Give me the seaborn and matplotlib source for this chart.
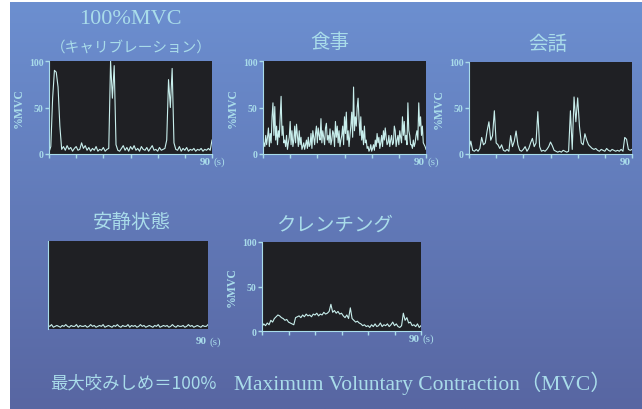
import numpy as np
import matplotlib
matplotlib.use("Agg")
import matplotlib.pyplot as plt
import seaborn as sns

# 筋電図の読み取り値 (%MVC)、0〜90秒
mvc_calib = [2, 8, 60, 90, 88, 72, 30, 5, 8, 4, 9, 5, 7, 3, 6, 8, 4, 5, 12, 6,
             9, 4, 7, 3, 6, 4, 8, 3, 5, 4, 7, 3, 5, 6, 100, 60, 95, 10, 4, 3,
             6, 9, 4, 7, 3, 8, 5, 9, 4, 6, 3, 8, 5, 4, 7, 3, 6, 9, 4, 5,
             3, 7, 4, 5, 6, 15, 80, 50, 92, 12, 5, 4, 8, 3, 6, 4, 7, 3, 5, 4,
             6, 3, 5, 4, 6, 3, 5, 4, 6, 4, 15]

eating = [5, 12, 8, 20, 10, 18, 28, 8, 22, 12, 40, 55, 20, 51, 15, 30, 10, 25, 18, 40,
          62, 20, 30, 12, 15, 8, 20, 5, 12, 18, 35, 10, 25, 8, 15, 30, 12, 32, 20, 8,
          25, 10, 18, 5, 8, 12, 5, 10, 15, 6, 18, 8, 10, 22, 6, 25, 18, 10, 22, 30,
          12, 28, 20, 15, 38, 12, 25, 18, 10, 28, 33, 15, 20, 12, 27, 10, 15, 25, 22, 8,
          35, 18, 30, 12, 25, 8, 15, 20, 30, 10, 40, 22, 45, 15, 25, 8, 20, 30, 45, 18,
          72, 25, 40, 30, 50, 60, 38, 20, 40, 15, 25, 10, 30, 12, 15, 6, 8, 3, 5, 10,
          3, 6, 10, 4, 15, 8, 22, 12, 18, 6, 12, 20, 8, 25, 15, 28, 18, 10, 12, 20,
          8, 15, 20, 10, 12, 30, 25, 8, 15, 20, 10, 25, 18, 12, 40, 20, 35, 15, 20, 10,
          55, 25, 20, 10, 10, 6, 15, 8, 12, 20, 25, 15, 55, 30, 40, 20, 30, 12, 10, 8,
          5]

talking = [5, 14, 4, 3, 5, 3, 6, 18, 10, 12, 25, 35, 15, 20, 47, 12, 10, 6, 10, 4,
           3, 5, 3, 20, 8, 14, 25, 10, 4, 3, 5, 8, 3, 6, 12, 17, 8, 12, 46, 8,
           3, 4, 3, 5, 8, 13, 9, 4, 3, 2, 3, 2, 4, 3, 2, 3, 47, 5, 62, 35,
           61, 30, 12, 10, 22, 15, 10, 8, 6, 5, 6, 4, 3, 5, 4, 3, 6, 4, 3, 5,
           4, 3, 4, 3, 5, 3, 18, 16, 5, 4, 5]

resting = [4, 3, 5, 2, 3, 4, 3, 2, 4, 3, 5, 3, 2, 4, 3, 3, 5, 2, 4, 3,
           3, 4, 2, 3, 5, 3, 4, 2, 3, 4, 3, 5, 2, 3, 4, 3, 2, 4, 3, 5,
           3, 2, 4, 3, 3, 5, 2, 4, 3, 4, 2, 3, 5, 3, 4, 2, 3, 4, 3, 2,
           4, 3, 5, 2, 3, 4, 3, 4, 2, 3, 5, 3, 2, 4, 3, 3, 4, 2, 3, 5,
           3, 4, 2, 3, 4, 3, 2, 4, 3, 3, 5]

clenching = [5, 8, 6, 9, 7, 12, 10, 14, 16, 18, 17, 15, 14, 12, 13, 10, 9, 8, 7, 15,
             16, 17, 15, 18, 16, 19, 17, 18, 16, 19, 18, 20, 17, 19, 18, 21, 19, 20, 22, 30,
             21, 23, 20, 22, 19, 20, 17, 15, 18, 14, 26, 14, 12, 10, 11, 9, 8, 6, 7, 5,
             6, 4, 7, 5, 8, 5, 6, 9, 5, 7, 6, 8, 5, 7, 10, 6, 8, 5, 4, 6,
             20, 12, 15, 9, 10, 6, 7, 5, 8, 4, 6]

titles = ["100%MVC", "食事", "会話", "安静状態", "クレンチング"]
y_ticks = [0, 50, 100]
x_ticks = [0, 15, 30, 45, 60, 75, 90]
duration = 90

W, H = 642, 410
txt_c = "#a9dcea"
trace_c = "#c8eeec"
panel_c = "#1f2024"
serif = ["Liberation Serif", "DejaVu Serif"]
jp = ["Noto Sans CJK JP", "DejaVu Sans"]


def px_box(x0, y0, x1, y1):
    return [x0 / W, 1 - y1 / H, (x1 - x0) / W, (y1 - y0) / H]


fig = plt.figure(figsize=(W / 100, H / 100), dpi=100)
fig.patch.set_facecolor("white")

# 背景のグラデーション
bg = fig.add_axes(px_box(10, 3, 642, 410))
top = np.array([108, 143, 208]) / 255
bottom = np.array([88, 102, 162]) / 255
k = np.linspace(0, 1, 256)[:, None, None]
grad = top * (1 - k) + bottom * k
bg.imshow(np.repeat(grad, 2, axis=1), aspect="auto", extent=[0, 1, 0, 1])
bg.axis("off")

# (データ, 位置, 目盛りあり, 単位表示)
panels = [
    (mvc_calib, (49, 62, 212, 155), True, True),
    (eating, (263, 62, 426, 155), True, True),
    (talking, (469, 63, 632, 155), True, False),
    (resting, (48, 242, 208, 330), False, True),
    (clenching, (262, 243, 421, 332), True, True),
]

for vals, box, full_axis, unit in panels:
    ax = fig.add_axes(px_box(*box))
    ax.set_facecolor(panel_c)
    t = np.linspace(0, duration, len(vals))
    sns.lineplot(x=t, y=vals, ax=ax, color=trace_c, linewidth=0.8)
    ax.set_xlim(0, duration)
    ax.set_ylim(0, 100)
    ax.set_xlabel("")
    for s in ["top", "right"]:
        ax.spines[s].set_visible(False)
    ax.spines["left"].set_color(txt_c)
    ax.spines["bottom"].set_color(txt_c)
    if full_axis:
        ax.set_xticks(x_ticks)
        ax.set_xticklabels([])
        ax.set_yticks(y_ticks)
        ax.set_yticklabels([str(v) for v in y_ticks], fontsize=7,
                           family=serif, fontweight="bold", color=txt_c)
        ax.tick_params(direction="out", length=3, width=1, color=txt_c, pad=1)
        ax.set_ylabel("%MVC", fontsize=8.5, family=serif, fontweight="bold",
                      color=txt_c, labelpad=3)
        dy = -2
    else:
        ax.set_xticks([])
        ax.set_yticks([])
        ax.spines["bottom"].set_visible(False)
        dy = -5
    ax.annotate("90", xy=(1, 0), xycoords="axes fraction", xytext=(-1, dy),
                textcoords="offset points", ha="right", va="top",
                fontsize=8, family=serif, fontweight="bold", color=txt_c,
                annotation_clip=False)
    if unit:
        ax.annotate("(s)", xy=(1, 0), xycoords="axes fraction", xytext=(1, dy),
                    textcoords="offset points", ha="left", va="top",
                    fontsize=8, family=serif, color=txt_c, annotation_clip=False)

# タイトル
fig.text(130 / W, 1 - 20 / H, titles[0], ha="center", va="center",
         fontsize=16, family=serif, color=txt_c)
fig.text(131 / W, 1 - 48 / H, "（キャリブレーション）", ha="center", va="center",
         fontsize=10.5, family=jp, color=txt_c)
fig.text(330 / W, 1 - 43 / H, titles[1], ha="center", va="center",
         fontsize=14, family=jp, color=txt_c)
fig.text(548 / W, 1 - 45 / H, titles[2], ha="center", va="center",
         fontsize=14, family=jp, color=txt_c)
fig.text(132 / W, 1 - 222 / H, titles[3], ha="center", va="center",
         fontsize=14, family=jp, color=txt_c)
fig.text(335 / W, 1 - 225 / H, titles[4], ha="center", va="center",
         fontsize=14, family=jp, color=txt_c)

# 下部の説明
fig.text(50 / W, 1 - 383 / H, "最大咬みしめ＝100%", ha="left", va="center",
         fontsize=12.5, family=jp, color=txt_c)
fig.text(612 / W, 1 - 383 / H, "Maximum Voluntary Contraction（MVC）",
         ha="right", va="center", fontsize=15.5,
         family=["Liberation Serif", "Noto Sans CJK JP"], color=txt_c)

fig.savefig("out.png", dpi=100)
